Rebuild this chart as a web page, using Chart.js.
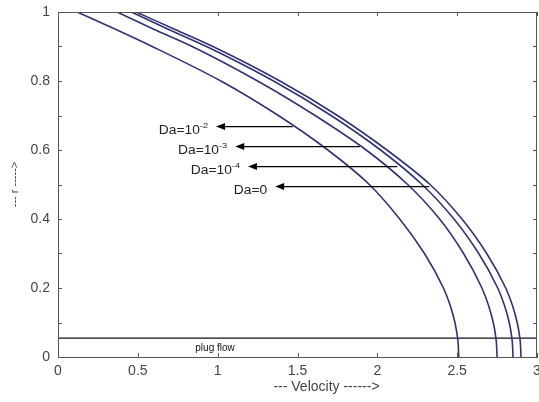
<!DOCTYPE html>
<html>
<head>
<meta charset="utf-8">
<script src="https://cdn.jsdelivr.net/npm/chart.js@4/dist/chart.umd.min.js"></script>
<style>
  html, body { margin: 0; padding: 0; background: #fff; }
  #wrap { width: 539px; height: 402px; }
</style>
</head>
<body>
<div id="wrap"><canvas id="chart"></canvas></div>
<script>
// radius values (y axis) shared by all curves
const radius = [0, 0.05, 0.1, 0.15, 0.2, 0.3, 0.4, 0.5, 0.6, 0.7, 0.8, 0.9, 0.95, 1.0];

// velocity for each Darcy number
const velDa2 = [2.510, 2.504, 2.486, 2.456, 2.414, 2.295, 2.14, 1.95, 1.69, 1.38, 1.02, 0.59, 0.36, 0.12];
const velDa3 = [2.750, 2.744, 2.726, 2.696, 2.655, 2.540, 2.39, 2.19, 1.93, 1.61, 1.25, 0.84, 0.60, 0.37];
const velDa4 = [2.850, 2.844, 2.826, 2.796, 2.754, 2.635, 2.48, 2.28, 2.02, 1.71, 1.35, 0.93, 0.69, 0.46];
const velDa0 = [2.900, 2.894, 2.876, 2.846, 2.804, 2.685, 2.53, 2.33, 2.06, 1.75, 1.39, 0.97, 0.73, 0.49];

// plug flow level
const plugR = 0.055;
const plugX = [0, 3];

// arrow annotations
const daLabels = ['Da=10', 'Da=10', 'Da=10', 'Da=0'];
const daExponents = ['-2', '-3', '-4', ''];
const arrowR = [0.668, 0.610, 0.552, 0.494];
const arrowTip = [0.99, 1.11, 1.19, 1.36];
const arrowTail = [1.47, 1.89, 2.125, 2.325];

const xTickStep = 0.5;
const yTickStep = 0.1;

const curveColor = '#2f3375';
const axisColor = '#555555';
const FONT = '"Liberation Sans", Arial, sans-serif';

const toPoints = (xs, ys) => xs.map((x, i) => ({ x, y: ys[i] }));

// r is the independent variable, so spline along y
const curve = (vals) => ({
  data: toPoints(vals, radius),
  borderColor: curveColor,
  borderWidth: 1.6,
  pointRadius: 0,
  showLine: true,
  indexAxis: 'y',
  cubicInterpolationMode: 'monotone'
});

// frame, inward ticks, arrows and text
const decorations = {
  id: 'decorations',
  afterDraw(chart) {
    const { ctx, chartArea: a, scales: { x, y } } = chart;
    ctx.save();
    ctx.strokeStyle = axisColor;
    ctx.lineWidth = 1;
    ctx.strokeRect(a.left + 0.5, a.top + 0.5, a.right - a.left - 1, a.bottom - a.top);

    const tl = 4;
    ctx.beginPath();
    x.ticks.forEach(t => {
      const px = Math.round(x.getPixelForValue(t.value)) + 0.5;
      ctx.moveTo(px, a.bottom); ctx.lineTo(px, a.bottom - tl);
      ctx.moveTo(px, a.top); ctx.lineTo(px, a.top + tl);
    });
    y.ticks.forEach(t => {
      const py = Math.round(y.getPixelForValue(t.value)) + 0.5;
      ctx.moveTo(a.left, py); ctx.lineTo(a.left + tl, py);
      ctx.moveTo(a.right, py); ctx.lineTo(a.right - tl, py);
    });
    ctx.stroke();

    // arrows + Da labels
    ctx.strokeStyle = '#000';
    ctx.fillStyle = '#000';
    ctx.lineWidth = 1.2;
    daLabels.forEach((lab, i) => {
      const py = y.getPixelForValue(arrowR[i]);
      const x0 = x.getPixelForValue(arrowTip[i]);
      const x1 = x.getPixelForValue(arrowTail[i]);
      ctx.beginPath();
      ctx.moveTo(x0 + 6, py); ctx.lineTo(x1, py);
      ctx.stroke();
      ctx.beginPath();
      ctx.moveTo(x0, py); ctx.lineTo(x0 + 9, py - 3.5); ctx.lineTo(x0 + 9, py + 3.5);
      ctx.closePath();
      ctx.fill();

      // text, right aligned before the arrow head
      ctx.fillStyle = '#222';
      ctx.font = '12px ' + FONT;
      const mainW = ctx.measureText(lab).width;
      ctx.font = '8px ' + FONT;
      const supW = ctx.measureText(daExponents[i]).width;
      const sx = 1.15;
      const right = x0 - 8;
      const left = right - (mainW + supW) * sx;
      ctx.save();
      ctx.translate(left, py + 4);
      ctx.scale(sx, 1);
      ctx.textBaseline = 'middle';
      ctx.textAlign = 'left';
      ctx.font = '12px ' + FONT;
      ctx.fillText(lab, 0, 0);
      ctx.font = '8px ' + FONT;
      ctx.fillText(daExponents[i], mainW, -5);
      ctx.restore();
      ctx.fillStyle = '#000';
    });

    // plug flow label
    ctx.fillStyle = '#111';
    ctx.font = '10px ' + FONT;
    ctx.textAlign = 'left';
    ctx.textBaseline = 'middle';
    ctx.fillText('plug flow', x.getPixelForValue(0.86), y.getPixelForValue(0.026));

    // axis titles
    ctx.fillStyle = '#444';
    ctx.font = '14px ' + FONT;
    ctx.textAlign = 'center';
    ctx.fillText('--- Velocity ------>', (a.left + a.right) / 2 + 29, 387);
    ctx.save();
    ctx.translate(15, (a.top + a.bottom) / 2);
    ctx.rotate(-Math.PI / 2);
    ctx.font = '11px ' + FONT;
    ctx.fillText('--- r ----->', 0, 0);
    ctx.restore();
    ctx.restore();
  }
};

new Chart(document.getElementById('chart'), {
  type: 'scatter',
  data: {
    datasets: [
      curve(velDa2),
      curve(velDa3),
      curve(velDa4),
      curve(velDa0),
      {
        data: toPoints(plugX, [plugR, plugR]),
        borderColor: '#111',
        borderWidth: 1.2,
        pointRadius: 0,
        showLine: true
      }
    ]
  },
  options: {
    responsive: true,
    maintainAspectRatio: false,
    animation: false,
    layout: { padding: { top: 12, right: 2, left: 0, bottom: 0 } },
    plugins: { legend: { display: false }, tooltip: { enabled: false } },
    scales: {
      x: {
        type: 'linear',
        min: 0, max: 3,
        ticks: {
          stepSize: xTickStep,
          color: '#444',
          padding: 6,
          font: { size: 14, family: FONT },
          callback: v => String(Math.round(v * 10) / 10)
        },
        grid: { display: false, drawTicks: false },
        border: { color: axisColor },
        afterFit(s) { s.height = 45; s.paddingLeft = 0; s.paddingRight = 0; }
      },
      y: {
        type: 'linear',
        min: 0, max: 1,
        ticks: {
          stepSize: yTickStep,
          color: '#444',
          padding: 8,
          font: { size: 14, family: FONT },
          callback: v => (Math.round(v * 10) % 2 === 0 ? String(Math.round(v * 10) / 10) : '')
        },
        grid: { display: false, drawTicks: false },
        border: { color: axisColor },
        afterFit(s) { s.width = 58; s.paddingTop = 0; s.paddingBottom = 0; }
      }
    }
  },
  plugins: [decorations]
});
</script>
</body>
</html>
